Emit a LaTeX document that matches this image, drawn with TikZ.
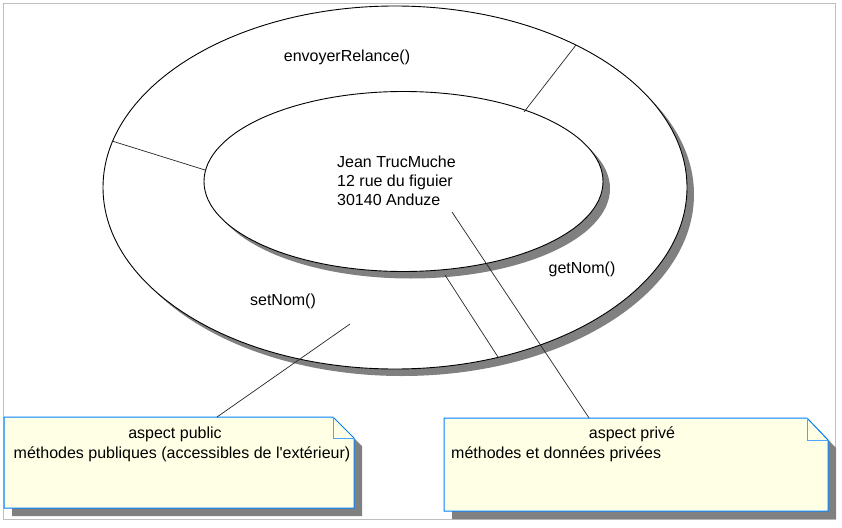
\documentclass[tikz,border=0pt]{standalone}
\usepackage{fontspec}
\setmainfont{Liberation Sans}
\definecolor{framegray}{RGB}{190,190,190}
\definecolor{shadowgray}{RGB}{128,128,128}
\definecolor{notefill}{RGB}{255,255,230}
\definecolor{noteblue}{RGB}{0,128,255}
\begin{document}
\begin{tikzpicture}[x=1pt,y=-1pt,
  ringline/.style={draw=black, line width=0.9pt, fill=white},
  shadowfill/.style={fill=shadowgray, draw=none},
  link/.style={draw=black!85, line width=0.7pt},
  notebox/.style={draw=noteblue, line width=1pt, fill=notefill},
  fold/.style={draw=noteblue!70, line width=0.6pt},
  txt/.style={inner sep=0pt, font=\fontsize{16}{19}\selectfont, text=black}]
\useasboundingbox (0,0) rectangle (842,527);
% frame
\draw[framegray, line width=1pt] (3,4) rectangle (835.5,519.5);
% outer ellipse with shadow
\fill[shadowfill] (402,194.5) ellipse [x radius=292pt, y radius=181.5pt];
\draw[ringline] (395,187.5) ellipse [x radius=292pt, y radius=181.5pt];
% inner ellipse with shadow
\fill[shadowfill] (410.5,188.5) ellipse [x radius=199.5pt, y radius=90pt];
\draw[ringline] (403.5,181.5) ellipse [x radius=199.5pt, y radius=90pt];
% connector end points
\coordinate (o1) at (112,141);
\coordinate (i1) at (205,170);
\coordinate (o2) at (576,45);
\coordinate (i2) at (524,112);
\coordinate (i3) at (445,275);
\coordinate (o3) at (498,357);
\coordinate (p1) at (452,212);
\coordinate (p2) at (350,324);
% notes
\fill[shadowfill] (12,425) -- (341,425) -- (362,446) -- (362,516) -- (12,516) -- cycle;
\draw[notebox] (4,417) -- (333,417) -- (354,438) -- (354,508) -- (4,508) -- cycle;
\draw[fold] (333,417) -- (333,438) -- (354,438);
\fill[shadowfill] (452,426) -- (815,426) -- (836,448) -- (836,519) -- (452,519) -- cycle;
\draw[notebox] (444,418) -- (807,418) -- (828,440) -- (828,511) -- (444,511) -- cycle;
\draw[fold] (807,418) -- (807,440) -- (828,440);
\coordinate (n1) at (217,417);
\coordinate (n2) at (589,418);
% connectors
\draw[link] (o1) -- (i1);
\draw[link] (o2) -- (i2);
\draw[link] (i3) -- (o3);
\draw[link] (p1) -- (n2);
\draw[link] (p2) -- (n1);
% texts
\node[txt, anchor=base] (env) at (347,61) {envoyerRelance()};
\node[txt, anchor=base west] (adr1) at (337,167) {Jean TrucMuche};
\node[txt, anchor=base west] (adr2) at (337,186) {12 rue du figuier};
\node[txt, anchor=base west] (adr3) at (337,205) {30140 Anduze};
\node[txt, anchor=base] (get) at (582,273) {getNom()};
\node[txt, anchor=base] (set) at (283,305) {setNom()};
\node[txt, anchor=base] (pub1) at (175,438) {aspect public};
\node[txt, anchor=base] (pub2) at (182,458) {méthodes publiques (accessibles de l\textquotesingle extérieur)};
\node[txt, anchor=base] (priv1) at (632,438) {aspect privé};
\node[txt, anchor=base west] (priv2) at (451,458) {méthodes et données privées};
\end{tikzpicture}
\end{document}
